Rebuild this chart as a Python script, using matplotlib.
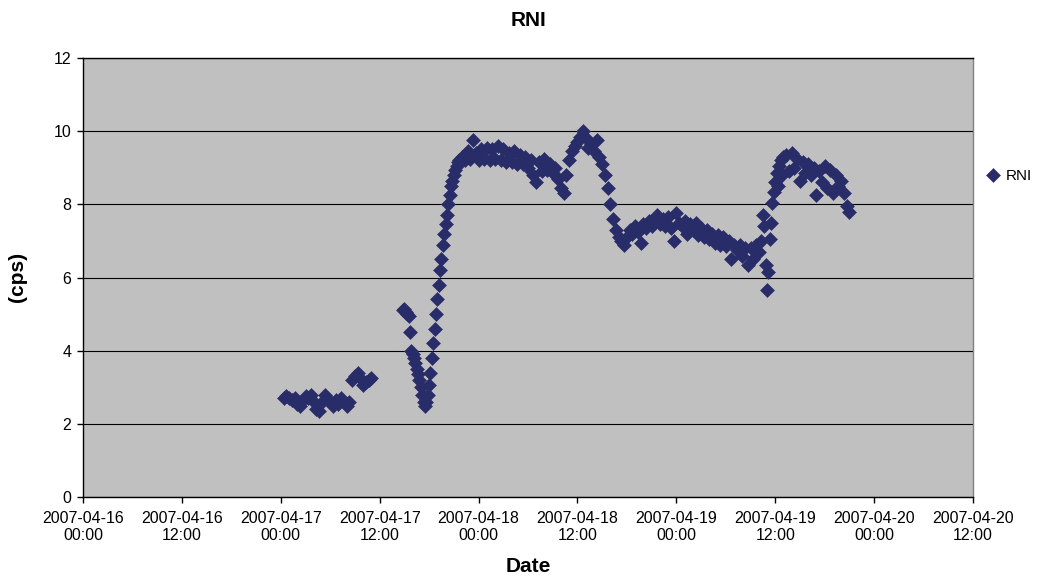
import numpy as np
import pandas as pd
import matplotlib
matplotlib.use("Agg")
import matplotlib.pyplot as plt
import matplotlib.dates as mdates

plt.rcParams['font.family'] = ['Liberation Sans', 'DejaVu Sans']

# RNI readings (cps), logged in runs: first timestamp, sampling step (min), values
run_a_start, run_a_step = "2007-04-17 00:20", 20
run_a = [2.7, 2.75, 2.7, 2.65, 2.7, 2.55, 2.5, 2.65, 2.75, 2.7, 2.8, 2.6, 2.4,
         2.35, 2.6, 2.8, 2.7, 2.6, 2.5, 2.65, 2.55, 2.7, 2.6, 2.5, 2.6]

run_b_start, run_b_step = "2007-04-17 08:40", 20
run_b = [3.2, 3.3, 3.4, 3.25, 3.05, 3.15, 3.2, 3.25]

run_c_start, run_c_step = "2007-04-17 14:50", 10
run_c = [5.1, 5.15, 5.05, 5.0, 4.95, 4.5, 4.0, 3.9, 3.8, 3.65,
         3.5, 3.35, 3.2, 3.0, 2.8, 2.6, 2.5, 2.6, 2.8, 3.05,
         3.4, 3.8, 4.2, 4.6, 5.0, 5.4, 5.8, 6.2, 6.5, 6.9,
         7.2, 7.45, 7.7, 8.0, 8.25, 8.5, 8.65, 8.8, 8.95, 9.05,
         9.15, 9.2, 9.25, 9.3]

run_d_start, run_d_step = "2007-04-17 22:20", 20
run_d = [9.2, 9.45, 9.25, 9.75, 9.4, 9.2, 9.5, 9.25, 9.55, 9.2,
         9.5, 9.25, 9.6, 9.2, 9.5, 9.15, 9.4, 9.15, 9.45, 9.1,
         9.35, 9.1, 9.3, 9.0, 9.2, 8.8, 8.6, 9.15, 8.9, 9.25,
         8.95, 9.1, 8.85, 9.0, 8.7, 8.45, 8.3, 8.8, 9.2, 9.45,
         9.6, 9.7, 9.85, 10.0, 9.8, 9.55, 9.65, 9.45, 9.75, 9.3,
         9.1, 8.8, 8.45, 8.0, 7.6, 7.3, 7.1, 7.0, 6.9, 7.1,
         7.3, 7.2, 7.4, 7.25, 6.95, 7.45, 7.35, 7.55, 7.4, 7.6,
         7.7, 7.45, 7.6, 7.4, 7.65, 7.35, 7.0, 7.75, 7.5, 7.4,
         7.55, 7.2, 7.45, 7.3, 7.5, 7.15, 7.35, 7.1, 7.3, 7.05,
         7.2, 6.95, 7.15, 6.9, 7.1, 6.85, 7.0, 6.5, 6.9, 6.75,
         6.9, 6.6, 6.8, 6.35, 6.8, 6.5, 6.9, 6.7]

run_e_start, run_e_step = "2007-04-19 10:20", 10
run_e = [7.0, 7.7, 7.4, 6.35, 5.65, 6.15, 7.05, 7.5, 8.05, 8.35, 8.6, 8.85,
         8.5, 9.05, 9.2, 8.8, 9.3]

run_f_start, run_f_step = "2007-04-19 13:20", 20
run_f = [9.35, 8.9, 9.4, 9.0, 9.25, 8.65, 9.15, 8.85, 9.1, 8.8, 9.0, 8.25,
         8.9, 8.6, 9.05, 8.45, 8.95, 8.3, 8.8, 8.5, 8.65, 8.3, 7.95, 7.8]

runs = [(run_a_start, run_a_step, run_a), (run_b_start, run_b_step, run_b),
        (run_c_start, run_c_step, run_c), (run_d_start, run_d_step, run_d),
        (run_e_start, run_e_step, run_e), (run_f_start, run_f_step, run_f)]

times = []
values = []
for start, step, vals in runs:
    times.extend(pd.date_range(start, periods=len(vals), freq=f"{step}min"))
    values.extend(vals)
times = pd.DatetimeIndex(times)
values = np.array(values)

xticks = pd.date_range("2007-04-16 00:00", "2007-04-20 12:00", freq="12h")
xtick_labels = [t.strftime("%Y-%m-%d\n%H:%M") for t in xticks]
yticks = [0, 2, 4, 6, 8, 10, 12]

navy = '#282c69'

fig = plt.figure(figsize=(10.4, 5.79), dpi=100)
ax = fig.add_axes([83 / 1040, 82 / 579, 890 / 1040, 439 / 579])
ax.set_facecolor('#c0c0c0')

line, = ax.plot(times, values, linestyle='none', marker='D', ms=7.4,
                mfc=navy, mec=navy, mew=0.4, label='RNI', zorder=3)

ax.set_xlim(xticks[0], xticks[-1])
ax.set_ylim(0, 12)
ax.set_xticks(xticks, xtick_labels, linespacing=1.15)
ax.set_yticks(yticks)
ax.tick_params(axis='both', labelsize=11.5, direction='out', length=4.3,
               width=1, color='black')
ax.tick_params(axis='x', pad=6)
ax.tick_params(axis='y', pad=4)

ax.grid(axis='y', color='black', linewidth=0.8)
ax.set_axisbelow(True)
for side in ['left', 'bottom', 'top']:
    ax.spines[side].set_color('black')
    ax.spines[side].set_linewidth(1.0)
ax.spines['right'].set_color('#808080')
ax.spines['right'].set_linewidth(1.0)

fig.text(528 / 1040, 1 - 20 / 579, 'RNI', ha='center', va='center',
         fontsize=15, fontweight='bold')
fig.text(528 / 1040, 1 - 567 / 579, 'Date', ha='center', va='center',
         fontsize=15, fontweight='bold')
fig.text(18 / 1040, 1 - 277 / 579, '(cps)', ha='center', va='center',
         rotation=90, fontsize=15, fontweight='bold')

fig.legend(handles=[line], labels=['RNI'], loc='center left',
           bbox_to_anchor=(986 / 1040, 1 - 176 / 579), frameon=False,
           fontsize=11, handlelength=0.9, handletextpad=0.4,
           borderpad=0, borderaxespad=0)

fig.savefig('out.png', dpi=100)
